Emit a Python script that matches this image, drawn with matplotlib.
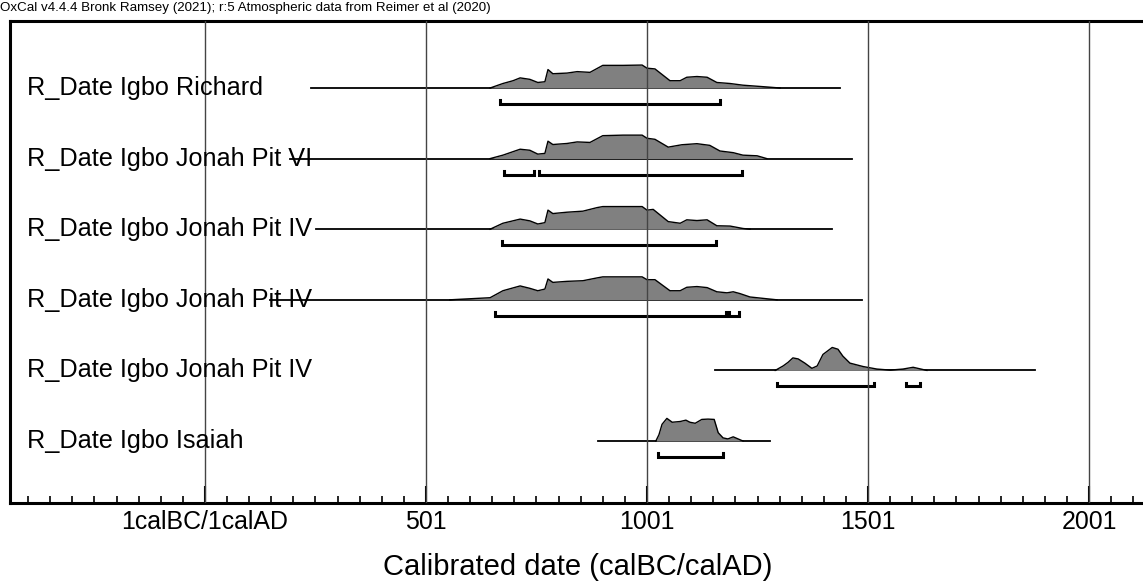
import numpy as np
import matplotlib.pyplot as plt
from matplotlib.transforms import blended_transform_factory

plt.rcParams['font.family'] = ['Liberation Sans', 'DejaVu Sans']

header = "OxCal v4.4.4 Bronk Ramsey (2021); r:5 Atmospheric data from Reimer et al (2020)"
labels = ["R_Date Igbo Richard", "R_Date Igbo Jonah Pit VI", "R_Date Igbo Jonah Pit IV",
          "R_Date Igbo Jonah Pit IV", "R_Date Igbo Jonah Pit IV", "R_Date Igbo Isaiah"]

# extent of the thin line for each date (calendar years, 0 = 1calBC/1calAD)
line_start = [240, 192, 251, 147, 1154, 889]
line_end = [1437, 1464, 1419, 1486, 1878, 1278]

# probability distributions (year, relative height)
richard_yr = [645, 674, 697, 713, 735, 753, 769, 776, 787, 819, 842, 871, 900, 946, 989,
              1000, 1018, 1052, 1075, 1090, 1113, 1136, 1158, 1188, 1217, 1271, 1301]
richard_h = [0, 4.3, 7, 9.7, 8.3, 5.3, 6, 17.7, 13.7, 14.3, 15.7, 15, 21.7, 21.7, 22,
             19, 18.3, 7, 7, 10.3, 11, 10.3, 5.3, 4.3, 2.7, 1, 0]

pitvi_yr = [645, 674, 713, 735, 753, 769, 776, 787, 819, 842, 871, 900, 946, 989,
            1000, 1018, 1048, 1079, 1113, 1142, 1165, 1195, 1217, 1249, 1271]
pitvi_h = [0, 3.3, 9, 8, 4.3, 5, 16.7, 13.5, 14.5, 16, 15.5, 22, 22.5, 22.5,
           19.5, 18.5, 11, 13.3, 14.3, 12.7, 7.3, 5.7, 3.3, 2.7, 0]

pitiv_a_yr = [645, 674, 713, 735, 753, 769, 776, 787, 819, 855, 887, 900, 989, 1000,
              1014, 1048, 1075, 1090, 1113, 1136, 1158, 1188, 1217, 1233]
pitiv_a_h = [0, 5.7, 9.7, 8, 5, 6.3, 18.3, 15, 16.3, 17.3, 20.7, 21.7, 21.7, 18.3,
             19, 7.3, 5.7, 9, 8.3, 9, 3.3, 3, 0.7, 0]

pitiv_b_yr = [554, 645, 674, 713, 735, 753, 769, 776, 787, 819, 855, 887, 900, 989, 1000,
              1018, 1052, 1075, 1090, 1113, 1136, 1158, 1181, 1195, 1210, 1233, 1271, 1294]
pitiv_b_h = [0, 2, 8.7, 13.3, 11, 8.7, 10.3, 20, 16.7, 17.7, 18.3, 21, 22, 22, 19.3,
             19.3, 8.7, 8.7, 12, 12.7, 11.7, 7.7, 6.7, 7.7, 6, 2.7, 1, 0]

pitiv_c_yr = [1290, 1308, 1319, 1330, 1342, 1357, 1373, 1385, 1398, 1419, 1432, 1443,
              1459, 1489, 1520, 1550, 1579, 1602, 1633]
pitiv_c_h = [0, 4.3, 7.7, 12, 11, 7, 2, 4.3, 15.3, 22, 20.3, 13.7, 7, 3.7, 1.3, 0.3,
             1.3, 3, 0]

isaiah_yr = [1020, 1027, 1034, 1045, 1057, 1075, 1088, 1097, 1109, 1124, 1138, 1152,
             1161, 1172, 1183, 1195, 1206, 1217]
isaiah_h = [0, 6, 16, 21.7, 18, 18.7, 20, 18, 17, 20.7, 21, 20.7, 8, 3, 2, 4, 2, 0]

dist_yr = [richard_yr, pitvi_yr, pitiv_a_yr, pitiv_b_yr, pitiv_c_yr, isaiah_yr]
dist_h = [richard_h, pitvi_h, pitiv_a_h, pitiv_b_h, pitiv_c_h, isaiah_h]

# 95.4% ranges
ranges = [
    [(667, 1165)],
    [(676, 744), (756, 1215)],
    [(672, 1156)],
    [(656, 1179), (1186, 1208)],
    [(1294, 1514), (1586, 1618)],
    [(1025, 1172)],
]

major_ticks = [0, 500, 1000, 1500, 2000]
major_labels = ["1calBC/1calAD", "501", "1001", "1501", "2001"]

W, H = 1143, 583
fig = plt.figure(figsize=(W / 100, H / 100), dpi=100)
ax = fig.add_axes([10 / W, 1 - 503 / H, 1 - 10 / W, (503 - 21) / H])

n = len(labels)
ax.set_xlim(-441, 2122)
ax.set_ylim(n - 1 + 0.878, -0.949)

hscale = 0.325 / 22
off = 0.227
tick = 0.055

for i in range(n):
    base = i
    yr = np.array(dist_yr[i])
    h = np.array(dist_h[i]) * hscale
    ax.plot([line_start[i], line_end[i]], [base, base], color='black', lw=1.3, zorder=2)
    ax.fill_between(yr, base, base - h, color='#808080', lw=0, zorder=2)
    ax.plot(yr, base - h, color='black', lw=1.0, zorder=2)
    for a, b in ranges[i]:
        yb = base + off
        ax.plot([a, a, b, b], [yb - tick, yb, yb, yb - tick], color='black', lw=2.2,
                solid_joinstyle='miter', zorder=2)

for t in major_ticks:
    ax.axvline(t, color='#444444', lw=1.0, zorder=3)

trans = blended_transform_factory(ax.transAxes, ax.transData)
for i, lab in enumerate(labels):
    ax.text(17 / 1133, i, lab, transform=trans, fontsize=18.2, ha='left', va='center',
            zorder=4)

ax.set_xticks(major_ticks)
ax.set_xticklabels(major_labels, fontsize=17.9)
ax.set_xticks(np.arange(-400, 2122, 50), minor=True)
ax.tick_params(axis='x', which='major', direction='in', length=12, width=1.5, pad=5)
ax.tick_params(axis='x', which='minor', direction='in', length=5, width=1.2)
ax.set_yticks([])

for s in ['left', 'top', 'bottom']:
    ax.spines[s].set_linewidth(2.2)
ax.spines['right'].set_visible(False)

fig.text(578 / W, 1 - 567 / H, "Calibrated date (calBC/calAD)", fontsize=21,
         ha='center', va='center')
fig.text(0, 1 - 2 / H, header, fontsize=9.6, ha='left', va='top')

fig.savefig('out.png', dpi=100)
